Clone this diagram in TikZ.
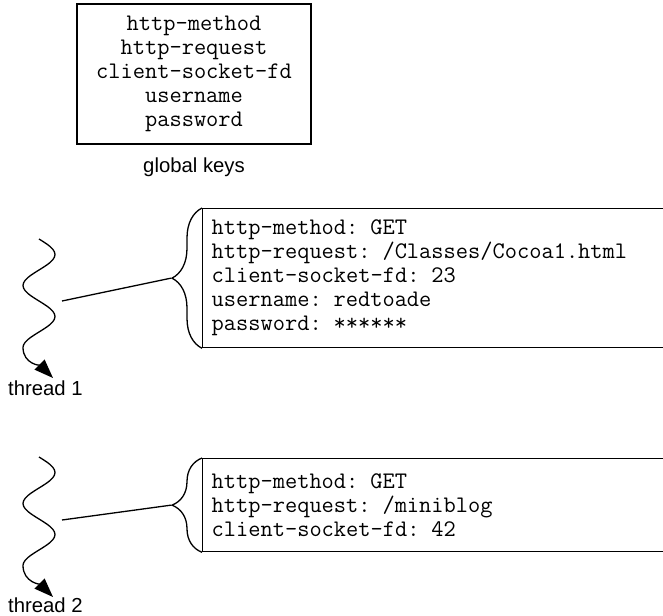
\documentclass[tikz,border=0pt]{standalone}
\usepackage{fontspec}
\setsansfont{Liberation Sans}
\usetikzlibrary{arrows.meta, positioning, decorations.pathreplacing}

\begin{document}
\begin{tikzpicture}[
    x=1pt, y=-1pt,
    keybox/.style={
        draw,
        rectangle,
        line width=1.3pt,
        font=\fontsize{23.75}{24}\selectfont\ttfamily,
        inner sep=0pt
    },
    reqbox/.style={
        keybox,
        anchor=north west,
        minimum width=520pt,
        text width=502pt,
        inner xsep=9pt,
        align=left
    },
    lbl/.style={
        font=\fontsize{20.3}{24}\selectfont\sffamily,
        inner sep=0pt
    },
    thread/.style={
        line width=1.3pt,
        -{Triangle[length=19pt,width=14pt]}
    },
    link/.style={
        line width=1.3pt
    },
    curly/.style={
        decorate,
        decoration={brace, amplitude=30pt},
        line width=1.3pt
    }
]
\useasboundingbox (0,0) rectangle (663,615);
\clip (0,0) rectangle (663,615);

% Top
\node[keybox, minimum width=234pt, minimum height=140pt, align=center] (keys) at (194,74)
    {http-method\\http-request\\client-socket-fd\\username\\password};
\node[lbl, anchor=base] (keyslbl) at (194,172) {global keys};

% Thread 1
\node[reqbox, minimum height=139pt] (req1) at (202,208)
    {http-method: GET\\http-request: /Classes/Cocoa1.html\\client-socket-fd: 23\\username: redtoade\\password: ******};
\coordinate (tip1) at ([xshift=-31pt]req1.west);
\coordinate (t1mid) at (62,301);
\coordinate (t1end) at (53,378);
\draw[curly] (req1.south west) -- (req1.north west);
\draw[thread] plot[smooth, domain=0:630, samples=43, variable=\t]
    ({39+16*sin(\t)}, {239+\t*15.5/90}) to[out=-90, in=135] (t1end);
\draw[link] (t1mid) -- (tip1);
\node[lbl, anchor=base west] (t1lbl) at (8,395) {thread 1};

% Thread 2
\node[reqbox, minimum height=93pt] (req2) at (202,458)
    {http-method: GET\\http-request: /miniblog\\client-socket-fd: 42};
\coordinate (tip2) at ([xshift=-31pt]req2.west);
\coordinate (t2mid) at (62,520);
\coordinate (t2end) at (53,597);
\draw[curly] (req2.south west) -- (req2.north west);
\draw[thread] plot[smooth, domain=0:630, samples=43, variable=\t]
    ({39+16*sin(\t)}, {457+\t*15.5/90}) to[out=-90, in=135] (t2end);
\draw[link] (t2mid) -- (tip2);
\node[lbl, anchor=base west] (t2lbl) at (8,612) {thread 2};

\end{tikzpicture}
\end{document}
